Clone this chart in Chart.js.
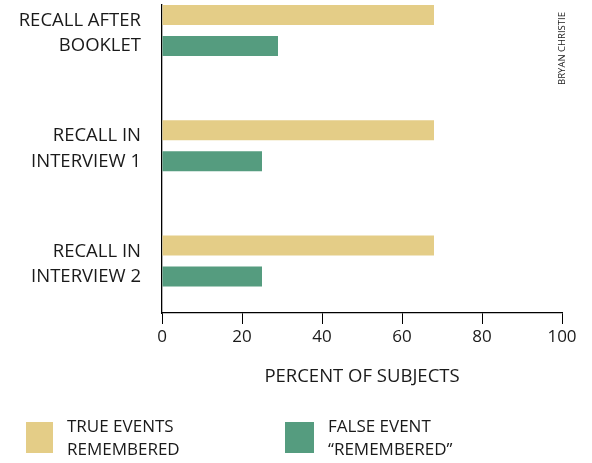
<!DOCTYPE html>
<html>
<head>
<meta charset="utf-8">
<script src="https://cdn.jsdelivr.net/npm/chart.js@4/dist/chart.umd.min.js"></script>
<style>
  html, body { margin: 0; padding: 0; background: #fff; }
  #wrap { width: 592px; height: 463px; position: relative; }
</style>
</head>
<body>
<div id="wrap"><canvas id="c"></canvas></div>
<script>
// ---- data ----
const categories = [['RECALL AFTER', 'BOOKLET'], ['RECALL IN', 'INTERVIEW 1'], ['RECALL IN', 'INTERVIEW 2']];
const trueEvents = [68, 68, 68];
const falseEvent = [29, 25, 25];
const xTicks = [0, 20, 40, 60, 80, 100];
const seriesLabels = [['TRUE EVENTS', 'REMEMBERED'], ['FALSE EVENT', '\u201CREMEMBERED\u201D']];
const axisTitle = 'PERCENT OF SUBJECTS';
const credit = 'BRYAN CHRISTIE';

// ---- styles ----
const YELLOW = '#E4CD87';
const GREEN = '#559C7F';
const TEXT = '#1a1a1a';
const FONT = "'Open Sans', 'Noto Sans', sans-serif";

const overlay = {
  id: 'overlay',
  afterDraw(chart) {
    const ctx = chart.ctx;
    ctx.save();
    // credit, vertical
    ctx.fillStyle = TEXT;
    ctx.font = '9.5px ' + FONT;
    ctx.translate(562, 48.5);
    ctx.rotate(-Math.PI / 2);
    ctx.textAlign = 'center';
    ctx.textBaseline = 'middle';
    ctx.fillText(credit, 0, 0);
    ctx.restore();

    // legend
    ctx.save();
    const items = [
      { color: chart.data.datasets[0].backgroundColor, label: seriesLabels[0], bx: 26, bw: 27, tx: 67 },
      { color: chart.data.datasets[1].backgroundColor, label: seriesLabels[1], bx: 285, bw: 29, tx: 328 }
    ];
    items.forEach(it => {
      ctx.fillStyle = it.color;
      ctx.fillRect(it.bx, 422, it.bw, 31);
      ctx.fillStyle = TEXT;
      ctx.font = '17px ' + FONT;
      ctx.textAlign = 'left';
      ctx.textBaseline = 'middle';
      it.label.forEach((line, i) => ctx.fillText(line, it.tx, 427 + i * 23));
    });
    ctx.restore();
  }
};

new Chart(document.getElementById('c'), {
  type: 'bar',
  data: {
    datasets: [
      {
        label: seriesLabels[0].join(' '),
        data: trueEvents.map((v, i) => ({ x: v, y: i })),
        backgroundColor: YELLOW,
        categoryPercentage: 0.539,
        barPercentage: 0.645
      },
      {
        label: seriesLabels[1].join(' '),
        data: falseEvent.map((v, i) => ({ x: v, y: i })),
        backgroundColor: GREEN,
        categoryPercentage: 0.539,
        barPercentage: 0.645
      }
    ]
  },
  options: {
    indexAxis: 'y',
    responsive: true,
    maintainAspectRatio: false,
    animation: false,
    layout: { padding: { top: 5, right: 30, bottom: 75.6, left: 0 } },
    plugins: {
      legend: { display: false },
      tooltip: { enabled: false }
    },
    scales: {
      y: {
        type: 'linear',
        reverse: true,
        bounds: 'data',
        offset: false,
        min: -0.2213,
        max: 2.4512,
        afterBuildTicks(scale) {
          scale.ticks = categories.map((_, i) => ({ value: i }));
        },
        afterFit(scale) {
          scale.width = 162;
          scale.paddingTop = 0;
          scale.paddingBottom = 0;
        },
        grid: { display: false, drawTicks: false, offset: false },
        border: { display: true, color: '#000', width: 1.3 },
        ticks: {
          padding: 21,
          labelOffset: 3,
          color: TEXT,
          font: { family: FONT, size: 18.5, lineHeight: 1.37 },
          callback: (v, i) => categories[i]
        }
      },
      x: {
        type: 'linear',
        min: 0,
        max: 100,
        afterBuildTicks(scale) {
          scale.ticks = xTicks.map(v => ({ value: v }));
        },
        grid: { display: true, drawOnChartArea: false, drawTicks: true, tickLength: 11, color: '#000', lineWidth: 1 },
        border: { display: true, color: '#000', width: 1.3 },
        ticks: {
          padding: 3,
          color: TEXT,
          maxRotation: 0,
          font: { family: FONT, size: 17 }
        },
        title: {
          display: true,
          text: axisTitle,
          color: TEXT,
          padding: { top: 14.8, bottom: 0 },
          font: { family: FONT, size: 18.5 }
        }
      }
    }
  },
  plugins: [overlay]
});
</script>
</body>
</html>
